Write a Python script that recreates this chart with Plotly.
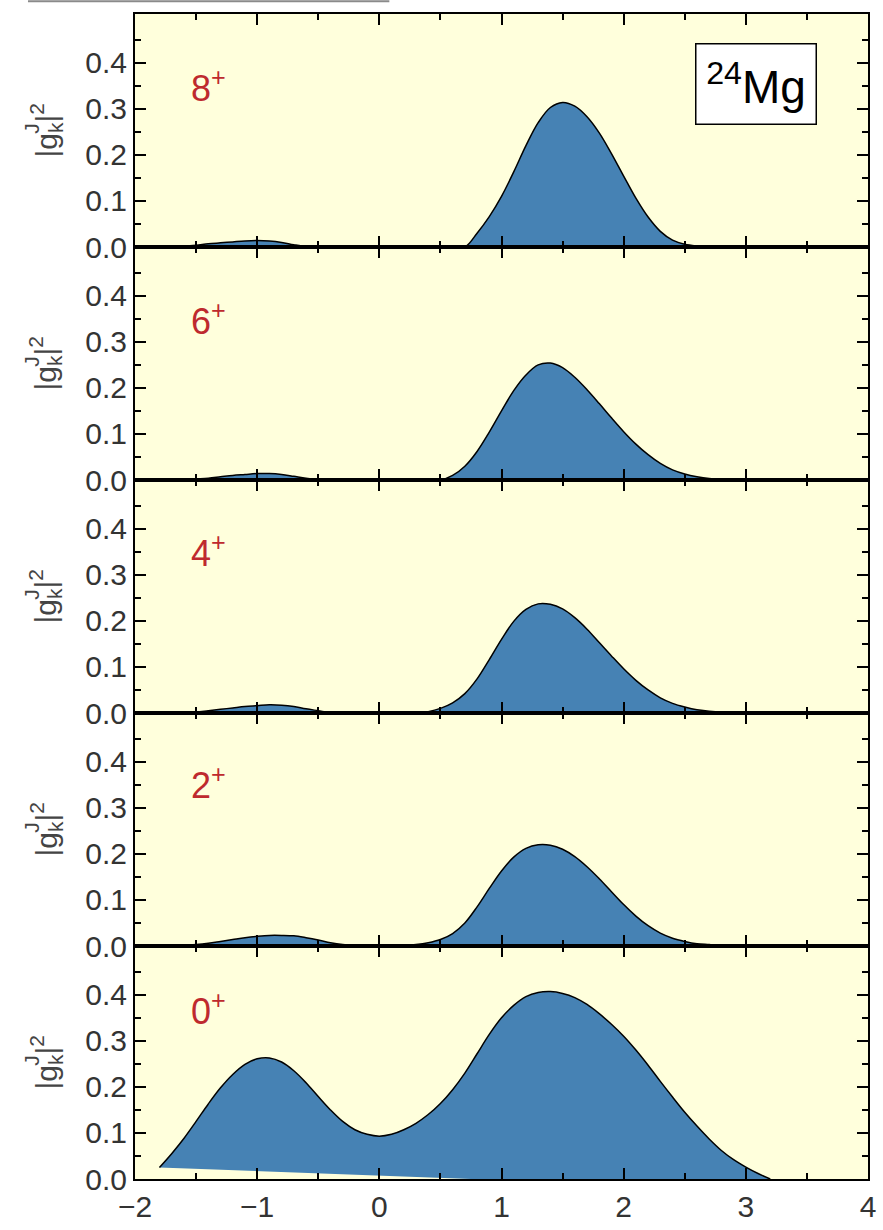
import plotly.graph_objects as go
from plotly.subplots import make_subplots

# ---------------- data ----------------
X = [-1.8, -1.7, -1.6, -1.5, -1.4, -1.3, -1.2, -1.1, -1.0, -0.9,
     -0.8, -0.7, -0.6, -0.5, -0.4, -0.3, -0.2, -0.1, 0.0, 0.1,
     0.2, 0.3, 0.4, 0.5, 0.6, 0.7, 0.8, 0.9, 1.0, 1.1,
     1.2, 1.3, 1.4, 1.5, 1.6, 1.7, 1.8, 1.9, 2.0, 2.1,
     2.2, 2.3, 2.4, 2.5, 2.6, 2.7, 2.8, 2.9, 3.0, 3.1,
     3.2, 3.3, 3.4, 3.5]

g8 = [0, 0.001, 0.002, 0.004, 0.007, 0.009, 0.011, 0.013, 0.014, 0.013,
      0.010, 0.005, 0.001, 0, 0, 0, 0, 0, 0, 0,
      0, 0, 0, 0, 0, 0, 0.030, 0.066, 0.110, 0.163,
      0.220, 0.270, 0.303, 0.314, 0.306, 0.283, 0.248, 0.203, 0.154, 0.106,
      0.065, 0.034, 0.015, 0.006, 0.002, 0, 0, 0, 0, 0.001,
      0.002, 0.002, 0.001, 0]

g6 = [0, 0, 0, 0.002, 0.004, 0.007, 0.010, 0.012, 0.014, 0.014,
      0.012, 0.008, 0.004, 0.001, 0, 0, 0, 0, 0, 0,
      0, 0, 0, 0, 0.010, 0.030, 0.062, 0.104, 0.150, 0.194,
      0.228, 0.250, 0.254, 0.244, 0.223, 0.196, 0.166, 0.135, 0.105, 0.078,
      0.055, 0.036, 0.022, 0.013, 0.007, 0.003, 0.001, 0, 0, 0,
      0, 0, 0, 0]

g4 = [0, 0, 0, 0.002, 0.005, 0.008, 0.011, 0.014, 0.016, 0.018,
      0.017, 0.014, 0.009, 0.005, 0.001, 0, 0, 0, 0, 0,
      0, 0, 0.003, 0.010, 0.022, 0.042, 0.074, 0.116, 0.160, 0.199,
      0.225, 0.237, 0.236, 0.226, 0.207, 0.182, 0.153, 0.124, 0.096, 0.071,
      0.050, 0.033, 0.021, 0.013, 0.007, 0.004, 0.002, 0.001, 0, 0,
      0, 0, 0, 0]

g2 = [0, 0, 0.001, 0.003, 0.006, 0.010, 0.014, 0.018, 0.021, 0.023,
      0.023, 0.022, 0.018, 0.013, 0.007, 0.003, 0.001, 0, 0, 0,
      0.001, 0.003, 0.007, 0.014, 0.027, 0.050, 0.085, 0.125, 0.163, 0.193,
      0.212, 0.220, 0.219, 0.210, 0.194, 0.172, 0.146, 0.118, 0.090, 0.065,
      0.044, 0.028, 0.017, 0.010, 0.005, 0.003, 0.001, 0, 0, 0,
      0, 0, 0, 0]

X0 = [-1.8, -1.7, -1.6, -1.5, -1.4, -1.3, -1.2, -1.1, -1.0, -0.9,
      -0.8, -0.7, -0.6, -0.5, -0.4, -0.3, -0.2, -0.1, 0.0, 0.1,
      0.2, 0.3, 0.4, 0.5, 0.6, 0.7, 0.8, 0.9, 1.0, 1.1,
      1.2, 1.3, 1.4, 1.5, 1.6, 1.7, 1.8, 1.9, 2.0, 2.1,
      2.2, 2.3, 2.4, 2.5, 2.6, 2.7, 2.8, 2.9, 3.0, 3.1,
      3.2]

g0 = [0.025, 0.055, 0.088, 0.125, 0.163, 0.198, 0.227, 0.249, 0.261, 0.263,
      0.254, 0.235, 0.209, 0.179, 0.150, 0.125, 0.107, 0.097, 0.093, 0.097,
      0.107, 0.121, 0.140, 0.164, 0.194, 0.230, 0.272, 0.314, 0.350, 0.377,
      0.396, 0.405, 0.407, 0.403, 0.394, 0.379, 0.359, 0.336, 0.310, 0.280,
      0.247, 0.212, 0.178, 0.145, 0.115, 0.087, 0.062, 0.042, 0.026, 0.012,
      0.0]

labels = ["8", "6", "4", "2", "0"]
x_ticks = [-2, -1, 0, 1, 2, 3, 4]
y_ticks = [0.0, 0.1, 0.2, 0.3, 0.4]
y_minor = [0.05, 0.15, 0.25, 0.35, 0.45]

# ---------------- figure ----------------
FONT = "Liberation Sans, Arial, sans-serif"
FILL = "#4682B4"
BG = "#FFFFDC"
RED = "#BE2A2E"
FILL_BASE_X = 0.75   # where the 0+ polygon's lower edge meets the axis (styling)

fig = make_subplots(rows=5, cols=1, shared_xaxes=True, vertical_spacing=0)

SPL = dict(shape="spline", smoothing=1.0)
upper = [g8, g6, g4, g2]
for i, ys in enumerate(upper):
    fig.add_trace(go.Scatter(x=X, y=ys, mode="lines", fill="tozeroy",
                             fillcolor=FILL,
                             line=dict(color="black", width=1.5, **SPL),
                             showlegend=False, hoverinfo="skip"),
                  row=i + 1, col=1)

fig.add_trace(go.Scatter(x=X0 + [FILL_BASE_X], y=g0 + [0.0], mode="lines",
                         fill="toself", fillcolor=FILL,
                         line=dict(color=FILL, width=0),
                         showlegend=False, hoverinfo="skip"), row=5, col=1)
fig.add_trace(go.Scatter(x=X0, y=g0, mode="lines",
                         line=dict(color="black", width=1.5, **SPL),
                         showlegend=False, hoverinfo="skip"), row=5, col=1)

for r in range(1, 6):
    fig.update_xaxes(range=[-2, 4], tickvals=x_ticks, ticks="inside", ticklen=11,
                     tickwidth=2, tickcolor="black",
                     minor=dict(ticks="inside", ticklen=6, tickwidth=2, dtick=0.5,
                                tick0=0, tickcolor="black"),
                     showline=True, linecolor="black", linewidth=2, mirror="ticks",
                     showgrid=False, zeroline=False,
                     showticklabels=(r == 5),
                     tickfont=dict(family=FONT, size=30, color="#333333"),
                     row=r, col=1)
    fig.update_yaxes(range=[0, 0.506], tickvals=y_ticks, tickformat=".1f",
                     ticks="inside", ticklen=11, tickwidth=2, tickcolor="black",
                     minor=dict(ticks="inside", ticklen=6, tickwidth=2,
                                tickvals=y_minor, tickcolor="black"),
                     showline=True, linecolor="black", linewidth=2, mirror="ticks",
                     showgrid=False, zeroline=False,
                     tickfont=dict(family=FONT, size=30, color="#333333"),
                     row=r, col=1)

label_y = [0.35, 0.35, 0.352, 0.355, 0.37]
for i, lab in enumerate(labels):
    yref = "y" if i == 0 else f"y{i+1}"
    xref = "x" if i == 0 else f"x{i+1}"
    fig.add_annotation(x=-1.56, y=label_y[i], xref=xref, yref=yref,
                       text=f"{lab}<sup>+</sup>", showarrow=False,
                       xanchor="left", yanchor="middle",
                       font=dict(family=FONT, size=36, color=RED))
    # y-axis title: |g_k|^2 with the J stacked above the k
    fig.add_annotation(x=-0.1215, y=0.253, xref="paper", yref=yref,
                       text="|g<sub>k</sub>|<sup>2</sup>", showarrow=False,
                       textangle=-90, xanchor="center", yanchor="middle",
                       font=dict(family=FONT, size=30, color="#444444"))
    fig.add_annotation(x=-0.1415, y=0.253, xref="paper", yref=yref, yshift=2,
                       text="J", showarrow=False,
                       textangle=-90, xanchor="center", yanchor="middle",
                       font=dict(family=FONT, size=21, color="#444444"))

fig.add_annotation(x=3.08, y=0.354, xref="x", yref="y",
                   text="<sup>24</sup>Mg", showarrow=False,
                   xanchor="center", yanchor="middle",
                   width=115, height=75, borderpad=2,
                   bgcolor="white", bordercolor="black", borderwidth=1.5,
                   font=dict(family=FONT, size=46, color="black"))

fig.add_shape(type="line", xref="paper", yref="paper",
              x0=-0.146, x1=0.347, y0=1.011, y1=1.011,
              line=dict(color="#8a8a8a", width=2))

fig.update_layout(width=883, height=1230,
                  margin=dict(l=135, r=7, t=14, b=34),
                  paper_bgcolor="white", plot_bgcolor=BG,
                  font=dict(family=FONT, color="#333333"),
                  showlegend=False)

fig.write_html("out.html")
